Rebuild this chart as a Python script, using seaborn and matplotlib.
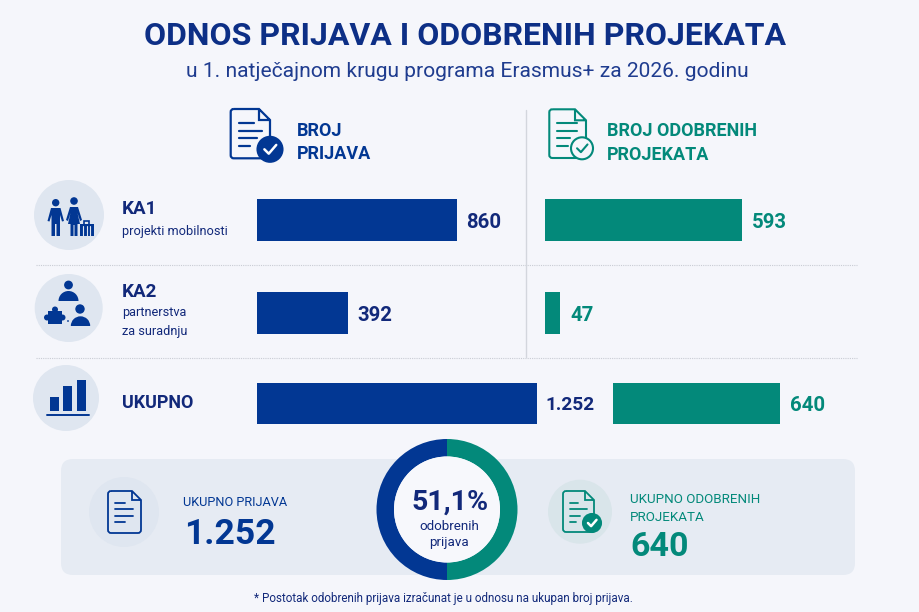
import matplotlib
matplotlib.use("Agg")
import matplotlib.pyplot as plt
import seaborn as sns
from matplotlib.patches import Circle, FancyBboxPatch, PathPatch, Polygon, Rectangle, Wedge
from matplotlib.path import Path

# Data
programmes = ["KA1", "KA2"]
applications = [860, 392]
approved = [593, 47]
applications_total = [1252]
approved_total = [640]
applications_labels = ["860", "392"]
approved_labels = ["593", "47"]
share_split = [50, 50]

W, H = 919, 612
BG = "#f5f6fb"
PANEL = "#e6ebf3"
DISC = "#dfe6f0"
BLUE = "#023793"
NAVY = "#12297a"
GREEN = "#03897a"

sns.set_theme(style="white")
plt.rcParams["font.family"] = ["Roboto", "DejaVu Sans"]

fig = plt.figure(figsize=(W / 100, H / 100), dpi=100, facecolor=BG)


def px_axes(x0, y0, x1, y1, zorder=1):
    ax = fig.add_axes([x0 / W, 1 - y1 / H, (x1 - x0) / W, (y1 - y0) / H], zorder=zorder)
    ax.patch.set_alpha(0)
    return ax


def pixel_layer(zorder):
    ax = px_axes(0, 0, W, H, zorder)
    ax.set_xlim(0, W)
    ax.set_ylim(H, 0)
    ax.axis("off")
    return ax


back = pixel_layer(0)
front = pixel_layer(5)


# Bars: each group has its own scale, like the original
def bars(box, values, labels, color, per_px, width, pad, ylim, size=14.7):
    ax = px_axes(*box, zorder=2)
    sns.barplot(x=values, y=list(range(len(values))), orient="h", color=color,
                saturation=1, width=width, linewidth=0, ax=ax)
    ax.set_xlim(0, (box[2] - box[0]) * per_px)
    ax.set_ylim(*ylim)
    ax.axis("off")
    texts = ax.bar_label(ax.containers[0], labels=labels, padding=pad, color=color if color == GREEN else NAVY,
                         fontsize=size, fontweight="bold")
    for t in texts:
        t.xyann = (pad, -1.5)
    return ax


bars((257, 173.5, 520, 359.5), applications, applications_labels, BLUE, 860 / 200, 0.457, 6.5, (1.5, -0.5))
bars((544.5, 173.5, 800, 359.5), approved, approved_labels, GREEN, 593 / 197, 0.457, 7.5, (1.5, -0.5))
bars((257, 382.5, 610, 423.5), applications_total, ["1.252"], BLUE, 1252 / 279.5, 1, 6.5, (0.5, -0.5), 13.8)
bars((613, 382.5, 860, 423.5), approved_total, ["640"], GREEN, 640 / 167, 1, 7.5, (0.5, -0.5))

# Donut
donut = px_axes(376.5, 439, 517.5, 580, zorder=3)
donut.pie(share_split, colors=[GREEN, BLUE], startangle=90, counterclock=False, radius=1,
          wedgeprops={"width": 17.5 / 70.5, "linewidth": 0})
donut.add_patch(Circle((0, 0), 53 / 70.5, color="#f7f8fc", lw=0))
donut.set_xlim(-1, 1)
donut.set_ylim(-1, 1)

# Summary panel and dividers
back.add_patch(FancyBboxPatch((61, 459), 794, 116, boxstyle="round,pad=0,rounding_size=12", fc=PANEL, ec="none"))
for y in (264.6, 357.8):
    back.plot([36, 857], [y, y], color="#c9ccd4", lw=0.8, ls=(0, (1, 1)))
back.plot([525.7, 525.7], [110, 357], color="#d3d6dd", lw=1)


# Icons
def document(x0, y0, x1, y1, fold, color, lw, line_ys, line_x):
    r = 3
    verts = [(x0 + r, y0), (x1 - fold, y0), (x1, y0 + fold), (x1, y1 - r), (x1, y1), (x1 - r, y1),
             (x0 + r, y1), (x0, y1), (x0, y1 - r), (x0, y0 + r), (x0, y0), (x0 + r, y0),
             (x1 - fold, y0), (x1 - fold, y0 + fold), (x1, y0 + fold)]
    codes = [Path.MOVETO, Path.LINETO, Path.LINETO, Path.LINETO, Path.CURVE3, Path.CURVE3,
             Path.LINETO, Path.CURVE3, Path.CURVE3, Path.LINETO, Path.CURVE3, Path.CURVE3,
             Path.MOVETO, Path.LINETO, Path.LINETO]
    front.add_patch(PathPatch(Path(verts, codes), fc="none", ec=color, lw=lw))
    for ly, x_end in zip(line_ys, line_x):
        front.plot([x0 + (x1 - x0) * 0.22, x_end], [ly, ly], color=color, lw=lw, solid_capstyle="round")


def check_badge(cx, cy, r, color, filled):
    front.add_patch(Circle((cx, cy), r, fc=color if filled else BG, ec=color, lw=1.5))
    front.plot([cx - 0.45 * r, cx - 0.1 * r, cx + 0.5 * r], [cy, cy + 0.35 * r, cy - 0.35 * r],
               color="white" if filled else color, lw=1.8 if filled else 1.5)


for c, r in [((69, 215), 35), ((68.7, 308), 34), ((66, 398), 33), ((124, 512), 35)]:
    front.add_patch(Circle(c, r, fc=DISC, ec="none"))
front.add_patch(Circle((580, 511.7), 32, fc="#d9e5ea", ec="none"))

document(230.7, 109, 270, 158.3, 11, BLUE, 1.6, [123, 131, 138, 146], [254, 262, 257, 250])
check_badge(270, 149.3, 12.5, BLUE, True)
document(549.3, 109.3, 586, 158, 11, GREEN, 1.5, [123, 131, 138, 146], [577, 577, 570, 568])
check_badge(582, 148.3, 11, GREEN, False)
document(108, 491, 141, 533, 9, BLUE, 1.3, [503, 509, 516, 522], [125, 133, 133, 125])
document(563, 491, 594, 532, 9, GREEN, 1.3, [503, 509, 516, 522], [578, 587, 580, 576])
check_badge(592, 523, 9, GREEN, True)

# Travellers
front.add_patch(Circle((55.7, 202.7), 3.7, fc=BLUE, ec="none"))
front.add_patch(Polygon([(51, 208), (60.5, 208), (64, 221), (62, 221.5), (60, 215), (60, 236), (56.5, 236),
                         (56.5, 224), (55, 224), (55, 236), (51.5, 236), (51.5, 215), (49.5, 221.5), (47.5, 221)],
                        fc=BLUE, ec="none"))
front.add_patch(Circle((74, 201), 3.8, fc=BLUE, ec="none"))
front.add_patch(Polygon([(70, 207), (78, 207), (82, 220), (80, 221), (77.5, 213), (80, 224), (77.5, 224), (77.5, 236),
                         (74.5, 236), (74.5, 225), (73.5, 225), (73.5, 236), (70.5, 236), (70.5, 224), (68, 224),
                         (70.5, 213), (68, 221), (66, 220)], fc=BLUE, ec="none"))
front.add_patch(Rectangle((80, 224), 14, 12, fc=BLUE, ec="none"))
front.add_patch(Rectangle((84, 220.5), 5, 4, fc="none", ec=BLUE, lw=1.2))
for lx in (83.2, 86.8, 90.4):
    front.plot([lx, lx], [226, 236], color=DISC, lw=0.8)

# Partners
front.add_patch(Circle((68.5, 285), 4.4, fc=BLUE, ec="none"))
front.add_patch(Wedge((68.5, 301), 10, 180, 360, fc=BLUE, ec="none"))
front.add_patch(Circle((80, 309), 4.7, fc=BLUE, ec="none"))
front.add_patch(Wedge((80.5, 326), 9.7, 180, 360, fc=BLUE, ec="none"))
front.add_patch(Rectangle((48, 311), 14, 13, fc=BLUE, ec="none"))
for c in [(55, 309.5), (47, 317.5), (62.5, 317.5)]:
    front.add_patch(Circle(c, 3, fc=BLUE, ec="none"))
front.add_patch(Circle((68, 321), 0.9, fc=BLUE, ec="none"))

# Small bar glyph
for x0, y0 in [(50, 397), (63, 386), (77, 380)]:
    front.add_patch(Rectangle((x0, y0), 8.8, 411 - y0, fc=BLUE, ec="none"))
front.plot([47, 89], [415, 415], color=BLUE, lw=1.4)


# Texts
def label(x, y, s, size, color=NAVY, weight="normal", ha="left"):
    front.text(x, y + size * 0.11, s, fontsize=size, color=color, fontweight=weight, ha=ha, va="center")


label(465, 33, "ODNOS PRIJAVA I ODOBRENIH PROJEKATA", 23, "#0d2f86", "bold", "center")
label(467.5, 70, "u 1. natječajnom krugu programa Erasmus+ za 2026. godinu", 15.1, "#1f3c8f", ha="center")
label(297, 129.5, "BROJ", 13, BLUE, "bold")
label(297, 153, "PRIJAVA", 13, BLUE, "bold")
label(607, 130, "BROJ ODOBRENIH", 13, GREEN, "bold")
label(607, 153.5, "PROJEKATA", 13, GREEN, "bold")
label(122, 208, programmes[0], 13.5, weight="bold")
label(122, 230.5, "projekti mobilnosti", 9.2)
label(122, 291, programmes[1], 13.5, weight="bold")
label(122, 311.5, "partnerstva", 9.2)
label(122, 330, "za suradnju", 9.2)
label(122, 402, "UKUPNO", 13, weight="bold")
label(183, 501.5, "UKUPNO PRIJAVA", 9.2, BLUE)
label(184, 532, "1.252", 25.5, BLUE, "bold")
label(450, 500, "51,1%", 20.5, NAVY, "bold", "center")
label(449, 525, "odobrenih", 9.6, ha="center")
label(449, 541.5, "prijava", 9.6, ha="center")
label(630, 498, "UKUPNO ODOBRENIH", 9.6, GREEN)
label(630, 516.5, "PROJEKATA", 9.6, GREEN)
label(630, 544, "640", 24.5, GREEN, "bold")
label(443, 597.5, "* Postotak odobrenih prijava izračunat je u odnosu na ukupan broj prijava.", 8.4, ha="center")

fig.savefig("out.png", dpi=100, facecolor=BG)
